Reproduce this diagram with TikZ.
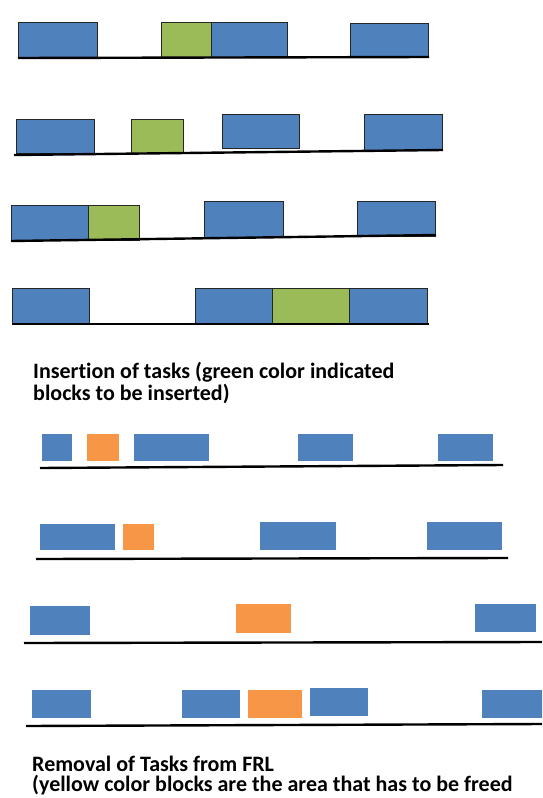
\documentclass[tikz,border=0pt]{standalone}
\usepackage{fontspec}
\setmainfont[Ligatures=CommonOff]{Carlito}
\definecolor{tblue}{HTML}{4F81BD}
\definecolor{tgreen}{HTML}{9BBB59}
\definecolor{torange}{HTML}{F79646}
\begin{document}
\begin{tikzpicture}[x=1pt,y=-1pt,
  box/.style 2 args={inner sep=0pt, outer sep=0pt, minimum width=#1pt, minimum height=#2pt, anchor=north west},
  iB/.style={fill=tblue, draw=black!85, line width=0.8pt},
  iG/.style={fill=tgreen, draw=black!85, line width=0.8pt},
  rB/.style={fill=tblue, draw=white, line width=1.2pt,
    append after command={[draw=black!18, line width=0.9pt]
      ([xshift=3pt,yshift=2pt]\tikzlastnode.north east) -- ([xshift=3pt,yshift=-6pt]\tikzlastnode.south east)}},
  rO/.style={fill=torange, draw=white, line width=1.2pt,
    append after command={[draw=black!18, line width=0.9pt]
      ([xshift=3pt,yshift=2pt]\tikzlastnode.north east) -- ([xshift=3pt,yshift=-6pt]\tikzlastnode.south east)}},
  base/.style={line width=2.4pt, black},
  lbl/.style={font=\bfseries\fontsize{22}{24}\selectfont, anchor=base west, inner sep=0pt}
]
\useasboundingbox (0,0) rectangle (542,798);
\clip (0,0) rectangle (542,798);
% Row 1
\node[iB, box={79}{35}] (r1a) at (18,22) {};
\node[iG, box={50}{35}] (r1g) at (161,22) {};
\node[iB, box={76}{35}] (r1b) at (211,22) {};
\node[iB, box={78}{34}] (r1c) at (350,23) {};
\coordinate (r1s) at (18,58); \coordinate (r1e) at (429,57);
\draw[base] (r1s) -- (r1e);
% Row 2
\node[iB, box={78}{34}] (r2a) at (16,119) {};
\node[iG, box={52}{34}] (r2g) at (131,119) {};
\node[iB, box={77}{34}] (r2b) at (222,114) {};
\node[iB, box={78}{36}] (r2c) at (364,114) {};
\coordinate (r2s) at (14,155); \coordinate (r2e) at (443,150);
\draw[base] (r2s) -- (r2e);
% Row 3
\node[iB, box={77}{35}] (r3a) at (11,205) {};
\node[iG, box={51}{35}] (r3g) at (88,205) {};
\node[iB, box={79}{36}] (r3b) at (204,201) {};
\node[iB, box={78}{35}] (r3c) at (357,201) {};
\coordinate (r3s) at (11,241); \coordinate (r3e) at (436,235);
\draw[base] (r3s) -- (r3e);
% Row 4
\node[iB, box={77}{35}] (r4a) at (12,288) {};
\node[iB, box={77}{35}] (r4b) at (195,288) {};
\node[iG, box={77}{35}] (r4g) at (272,288) {};
\node[iB, box={78}{35}] (r4c) at (349,288) {};
\coordinate (r4s) at (12,324); \coordinate (r4e) at (429,324);
\draw[base] (r4s) -- (r4e);
% Caption 1
\node[lbl] (t1) at (33,378) {Insertion of tasks (green color indicated};
\node[lbl] (t2) at (33,400) {blocks to be inserted)};
% Row 5
\node[rB, box={32}{29}] (r5a) at (41,433) {};
\node[rO, box={34}{29}] (r5o) at (86,433) {};
\node[rB, box={77}{29}] (r5b) at (133,433) {};
\node[rB, box={57}{29}] (r5c) at (297,433) {};
\node[rB, box={57}{29}] (r5d) at (437,433) {};
\coordinate (r5s) at (40,468); \coordinate (r5e) at (503,465);
\draw[base] (r5s) -- (r5e);
% Row 6
\node[rB, box={77}{28}] (r6a) at (39,523) {};
\node[rO, box={33}{28}] (r6o) at (122,523) {};
\node[rB, box={78}{30}] (r6b) at (259,521) {};
\node[rB, box={77}{30}] (r6c) at (426,521) {};
\coordinate (r6s) at (36,559); \coordinate (r6e) at (508,558);
\draw[base] (r6s) -- (r6e);
% Row 7
\node[rB, box={62}{31}] (r7a) at (29,605) {};
\node[rO, box={57}{31}] (r7o) at (235,603) {};
\node[rB, box={63}{30}] (r7b) at (474,603) {};
\coordinate (r7s) at (24,643); \coordinate (r7e) at (542,642);
\draw[base] (r7s) -- (r7e);
% Row 8
\node[rB, box={61}{30}] (r8a) at (31,689) {};
\node[rB, box={60}{30}] (r8b) at (181,689) {};
\node[rO, box={56}{30}] (r8o) at (247,689) {};
\node[rB, box={60}{30}] (r8c) at (309,687) {};
\node[rB, box={66}{30}] (r8d) at (481,689) {};
\coordinate (r8s) at (26,726); \coordinate (r8e) at (542,724);
\draw[base] (r8s) -- (r8e);
% Caption 2
\node[lbl] (t3) at (32,771) {Removal of Tasks from FRL};
\node[lbl] (t4) at (32,791) {(yellow color blocks are the area that has to be freed};
\end{tikzpicture}
\end{document}
